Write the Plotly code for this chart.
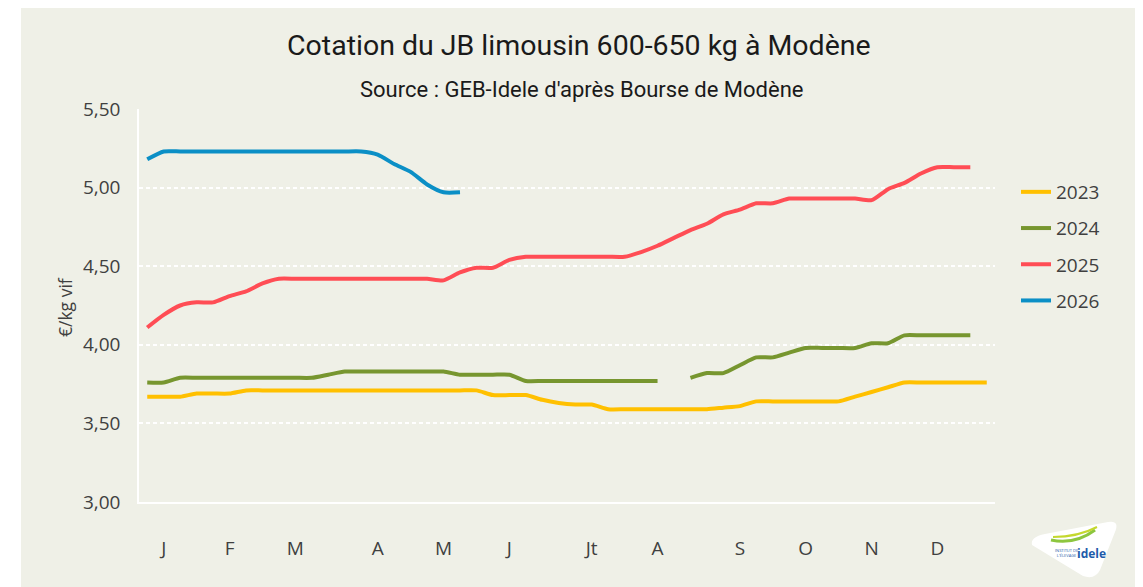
import plotly.graph_objects as go

weeks = list(range(1, 53))

month_ticks = [2, 6, 10, 15, 19, 23, 28, 32, 37, 41, 45, 49]
month_labels = ["J", "F", "M", "A", "M", "J", "Jt", "A", "S", "O", "N", "D"]

y2023 = [3.67, 3.67, 3.67, 3.69, 3.69, 3.69,
         3.71, 3.71, 3.71, 3.71, 3.71, 3.71, 3.71, 3.71, 3.71, 3.71, 3.71, 3.71, 3.71, 3.71, 3.71,
         3.68, 3.68, 3.68, 3.65, 3.63, 3.62, 3.62,
         3.59, 3.59, 3.59, 3.59, 3.59, 3.59, 3.59,
         3.60, 3.61,
         3.64, 3.64, 3.64, 3.64, 3.64, 3.64,
         3.67, 3.70, 3.73,
         3.76, 3.76, 3.76, 3.76, 3.76, 3.76]

y2024 = [3.76, 3.76,
         3.79, 3.79, 3.79, 3.79, 3.79, 3.79, 3.79, 3.79, 3.79,
         3.81,
         3.83, 3.83, 3.83, 3.83, 3.83, 3.83, 3.83,
         3.81, 3.81, 3.81, 3.81,
         3.77, 3.77, 3.77, 3.77, 3.77, 3.77, 3.77, 3.77, 3.77,
         None,
         3.79, 3.82, 3.82, 3.87, 3.92, 3.92, 3.95,
         3.98, 3.98, 3.98, 3.98,
         4.01, 4.01,
         4.06, 4.06, 4.06, 4.06, 4.06,
         None]

y2025 = [4.11, 4.19, 4.25, 4.27, 4.27, 4.31, 4.34, 4.39, 4.42,
         4.42, 4.42, 4.42, 4.42, 4.42, 4.42, 4.42, 4.42, 4.42,
         4.41, 4.46, 4.49, 4.49, 4.54,
         4.56, 4.56, 4.56, 4.56, 4.56, 4.56, 4.56,
         4.59, 4.63, 4.68, 4.73, 4.77, 4.83, 4.86,
         4.90, 4.90, 4.93,
         4.93, 4.93, 4.93, 4.93,
         4.92, 4.99, 5.03, 5.09, 5.13, 5.13, 5.13,
         None]

y2026 = [5.18, 5.23, 5.23, 5.23, 5.23, 5.23, 5.23, 5.23, 5.23, 5.23, 5.23, 5.23, 5.23, 5.23,
         5.21, 5.15, 5.10, 5.02, 4.97, 4.97] + [None] * 32

series = [("2023", y2023, "#FFC000"),
          ("2024", y2024, "#77962F"),
          ("2025", y2025, "#FF4D55"),
          ("2026", y2026, "#0B8FC6")]

# page offset (body margin) and plot area in screen pixels
OFF = 8
SL, SR, ST, SB = 139, 995, 109, 502
L, R, T, B = SL - OFF, SR - OFF, ST - OFF, SB - OFF
W, H = 1143 - OFF, 587 - OFF


def px(X):
    return (X - SL) / (SR - SL)


def py(Y):
    return (SB - Y) / (SB - ST)


fig = go.Figure()
for name, ys, col in series:
    fig.add_trace(go.Scatter(
        x=weeks, y=ys, name=name, mode="lines",
        line=dict(color=col, width=4, shape="spline", smoothing=0.6),
        legendgroup=name, connectgaps=False,
    ))

BG = "#EFF0E7"
TXT = "#404040"

shapes = [
    dict(type="rect", xref="paper", yref="paper",
         x0=px(21), x1=px(1135), y0=py(600), y1=py(4),
         fillcolor=BG, line=dict(width=0), layer="below"),
    # logo blob
    dict(type="path", xref="paper", yref="paper",
         path=(f"M {px(1032)},{py(545)} "
               f"Q {px(1030)},{py(537)} {px(1045)},{py(534)} "
               f"L {px(1108)},{py(522)} "
               f"Q {px(1120)},{py(520)} {px(1115)},{py(532)} "
               f"L {px(1100)},{py(570)} "
               f"Q {px(1095)},{py(580)} {px(1083)},{py(576)} Z"),
         fillcolor="white", line=dict(width=0), layer="above"),
    dict(type="path", xref="paper", yref="paper",
         path=(f"M {px(1051)},{py(540)} "
               f"Q {px(1075)},{py(545)} {px(1095)},{py(530)}"),
         line=dict(color="#8DC63F", width=3), layer="above"),
    dict(type="path", xref="paper", yref="paper",
         path=(f"M {px(1053)},{py(537)} "
               f"Q {px(1078)},{py(537)} {px(1097)},{py(527)}"),
         line=dict(color="#C4D82E", width=2), layer="above"),
]

annotations = [
    dict(text="Cotation du JB limousin 600-650 kg à Modène",
         x=px(579), y=py(45), xref="paper", yref="paper",
         showarrow=False, xanchor="center", yanchor="middle",
         font=dict(family="Roboto", size=28.5, color="#1A1A1A")),
    dict(text="Source : GEB-Idele d'après Bourse de Modène",
         x=px(581), y=py(89), xref="paper", yref="paper",
         showarrow=False, xanchor="center", yanchor="middle",
         font=dict(family="Roboto", size=22, color="#1A1A1A")),
    dict(text="€/kg vif", x=px(65), y=py(307), xref="paper", yref="paper",
         showarrow=False, textangle=-90, xanchor="center", yanchor="middle",
         font=dict(family="Open Sans", size=17.5, color=TXT)),
    dict(text="<b>idele</b>", x=px(1091), y=py(553), xref="paper", yref="paper",
         showarrow=False, xanchor="center", yanchor="middle",
         font=dict(family="Open Sans", size=12, color="#1E5BAA")),
    dict(text="INSTITUT DE<br>L'ÉLEVAGE", x=px(1066), y=py(553), xref="paper", yref="paper",
         showarrow=False, xanchor="center", yanchor="middle",
         font=dict(family="Open Sans", size=4, color="#1E5BAA")),
]

fig.update_layout(
    width=W, height=H,
    margin=dict(l=L, r=W - R, t=T, b=H - B),
    paper_bgcolor="white",
    plot_bgcolor="rgba(0,0,0,0)",
    separators=", ",
    showlegend=True,
    legend=dict(x=px(1016), y=py(173), xanchor="left", yanchor="top",
                xref="paper", yref="paper",
                bgcolor="rgba(0,0,0,0)", traceorder="grouped", tracegroupgap=8.5,
                font=dict(family="Open Sans", size=19, color=TXT)),
    xaxis=dict(range=[0.5, 52.5], tickmode="array", tickvals=month_ticks,
               ticktext=month_labels, showgrid=False, zeroline=False,
               showline=True, linecolor="white", linewidth=1.5, ticks="",
               ticklabelstandoff=28,
               tickfont=dict(family="Open Sans", size=19, color=TXT)),
    yaxis=dict(range=[3.0, 5.5], dtick=0.5, tick0=3.0, tickformat=".2f",
               showgrid=True, gridcolor="white", gridwidth=1.5, griddash="4px,3px",
               zeroline=False, showline=True, linecolor="white", linewidth=1.5,
               ticks="", ticklabelstandoff=13,
               tickfont=dict(family="Open Sans", size=19, color=TXT)),
    shapes=shapes,
    annotations=annotations,
)

fig.write_html("out.html")
